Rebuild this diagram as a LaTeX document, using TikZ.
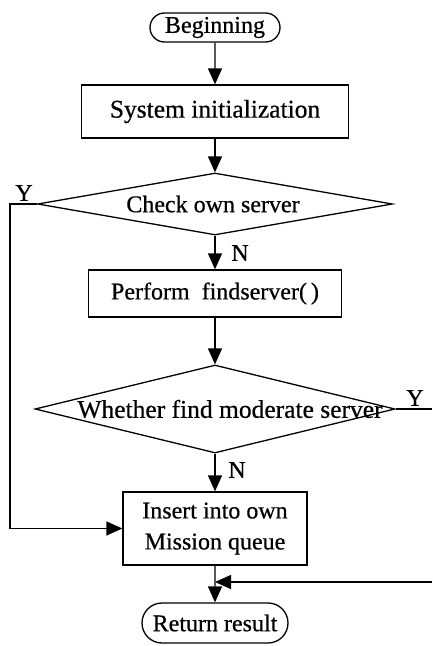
\documentclass[tikz,border=0pt]{standalone}
\usepackage{fontspec}
\setmainfont[FakeBold=0.6]{Liberation Serif}
\usetikzlibrary{shapes.geometric,shapes.misc,arrows.meta}
\begin{document}
\begin{tikzpicture}[x=1pt,y=-1pt,
  every node/.style={font=\fontsize{24}{31}\selectfont},
  proc/.style={draw,line width=1.3pt,inner sep=0pt,align=center},
  term/.style={draw,line width=1.3pt,rounded rectangle,inner sep=0pt},
  dia/.style={draw,line width=1.3pt,diamond,inner sep=0pt},
  conn/.style={line width=1.3pt,-{Triangle[width=14pt,length=16pt]}},
  plain/.style={line width=1.3pt},
]
\useasboundingbox (0,0) rectangle (432,646);
\node[term,minimum width=130pt,minimum height=29pt] (begin) at (215,27.5) {Beginning};
\node[proc,minimum width=267pt,minimum height=53pt,font=\fontsize{25.5}{31}\selectfont] (init) at (215,111.5) {System initialization};
\node[dia,minimum width=355pt,minimum height=62pt] (d1) at (215,204) {};
\node (t1) at (213,204) {Check own server};
\node[proc,minimum width=253pt,minimum height=47pt] (find) at (215,293.5) {Perform\ \ findserver(\,)};
\node[dia,minimum width=360pt,minimum height=88pt] (d2) at (215,409) {};
\node[font=\fontsize{25.5}{31}\selectfont] (t2) at (230,409) {Whether find moderate server};
\node[proc,minimum width=184pt,minimum height=73pt] (ins) at (215,528.5) {Insert into own\\Mission queue};
\node[term,minimum width=146pt,minimum height=40pt] (ret) at (215,623) {Return result};

\coordinate (L1) at (10,204);
\coordinate (L2) at (10,528.5);
\coordinate (R1) at (432,409);
\coordinate (R2) at (432,582);
\coordinate (J) at (215,582);

\node (n1) at (240,253) {N};
\node (n2) at (237,470) {N};
\node (y1) at (24,193) {Y};
\node (y2) at (415,398) {Y};

\draw[conn] (begin) -- (init);
\draw[conn] (init) -- (d1);
\draw[conn] (d1) -- (find);
\draw[conn] (find) -- (d2);
\draw[conn] (d2) -- (ins);
\draw[conn] (d1.west) -- (L1) -- (L2) -- (ins.west);
\draw[plain] (d2.east) -- (R1);
\draw[conn] (R2) -- (J);
\draw[conn] (ins) -- (ret);
\end{tikzpicture}
\end{document}
